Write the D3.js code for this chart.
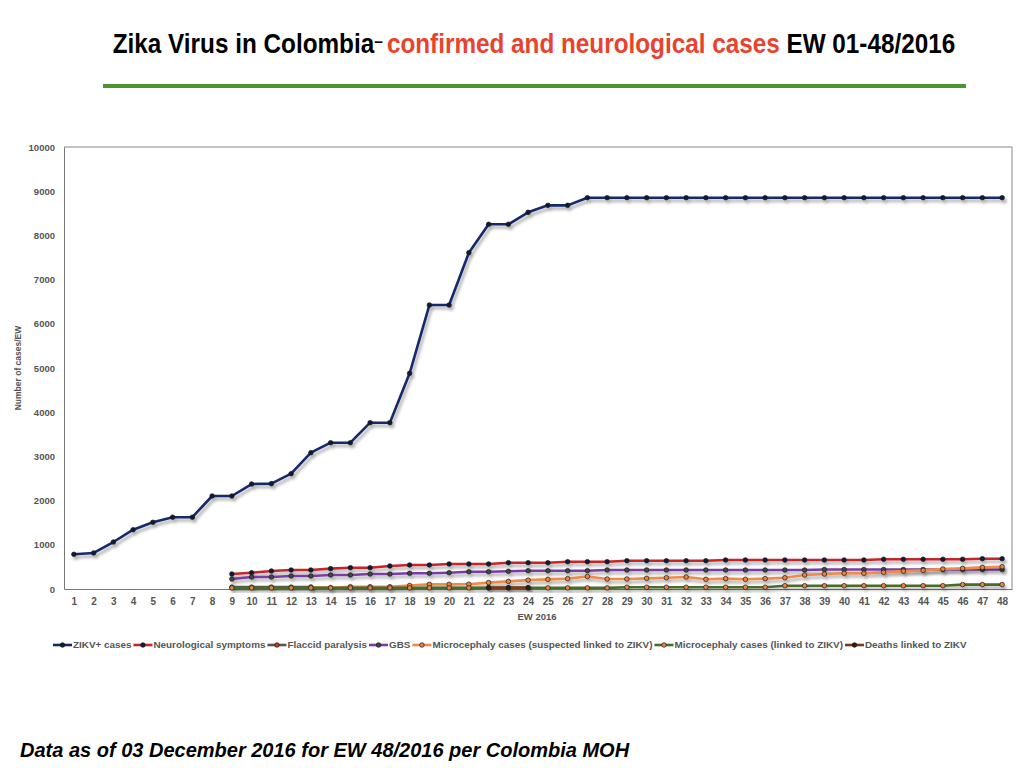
<!DOCTYPE html>
<html>
<head>
<meta charset="utf-8">
<script src="https://cdn.jsdelivr.net/npm/d3@7"></script>
<style>
  body { margin: 0; background: #fff; }
  svg { display: block; font-family: "Liberation Sans", Arial, sans-serif; }
  .axis text { font-size: 10px; font-weight: bold; fill: #555; }
  .axis path { stroke: #777; }
</style>
</head>
<body>
<div id="chart"></div>
<script>
// epidemiological weeks 2016
var weeks = [1, 2, 3, 4, 5, 6, 7, 8, 9, 10, 11, 12, 13, 14, 15, 16, 17, 18, 19, 20, 21, 22, 23, 24,
             25, 26, 27, 28, 29, 30, 31, 32, 33, 34, 35, 36, 37, 38, 39, 40, 41, 42, 43, 44, 45, 46, 47, 48];
var yTicks = [0, 1000, 2000, 3000, 4000, 5000, 6000, 7000, 8000, 9000, 10000];

var zikv = [785, 815, 1063, 1342, 1509, 1625, 1625, 2104, 2104, 2375, 2383, 2609, 3084, 3310, 3310, 3763,
            3763, 4879, 6425, 6425, 7609, 8251, 8251, 8522, 8680, 8680, 8853, 8853, 8853, 8853, 8853, 8853,
            8853, 8853, 8853, 8853, 8853, 8853, 8853, 8853, 8853, 8853, 8853, 8853, 8853, 8853, 8853, 8853];
var neuro = [null, null, null, null, null, null, null, null, 339, 369, 407, 430, 430, 460, 482, 482,
             520, 543, 543, 566, 566, 566, 595, 595, 595, 618, 618, 618, 640, 640, 640, 640,
             640, 656, 656, 656, 656, 656, 656, 656, 656, 672, 672, 672, 672, 672, 686, 686];
var flaccid = [null, null, null, null, null, null, null, null, 42, 42, 42, 42, 42, null, null, null,
               null, null, null, null, null, null, null, null, null, null, null, null, null, null, null, null,
               null, null, null, null, null, null, null, null, null, null, null, null, null, null, null, null];
var gbs = [null, null, null, null, null, null, null, null, 226, 271, 271, 294, 294, 317, 317, 339,
           339, 355, 355, 369, 391, 391, 400, 414, 414, 414, 414, 430, 430, 430, 430, 430,
           430, 430, 430, 430, 430, 430, 440, 440, 440, 440, 440, 440, 440, 440, 440, 440];
var microSusp = [null, null, null, null, null, null, null, null, null, null, null, null, 40, 30, 52, 52,
                 52, 80, 105, 105, 108, 145, 172, 200, 218, 234, 283, 226, 226, 241, 256, 271,
                 219, 234, 219, 234, 256, 317, 339, 355, 355, 377, 405, 422, 452, 467, 490, 505];
var microLinked = [null, null, null, null, null, null, null, null, 25, 25, 25, 25, 25, 25, 25, 25,
                   25, 25, 25, 25, 25, 25, 25, 25, 25, 25, 25, 25, 40, 40, 40, 40,
                   40, 40, 40, 40, 75, 75, 75, 75, 75, 75, 75, 75, 75, 100, 100, 100];
var deaths = [null, null, null, null, null, null, null, null, null, null, null, null, null, null, null, null,
              null, null, null, null, null, 30, 30, 30, null, null, null, null, null, null, null, null,
              null, null, null, null, null, null, null, null, null, null, null, null, null, null, null, null];

var seriesNames = ["ZIKV+ cases", "Neurological symptoms", "Flaccid paralysis", "GBS",
                   "Microcephaly cases (suspected linked to ZIKV)", "Microcephaly cases (linked to ZIKV)",
                   "Deaths linked to ZIKV"];
var seriesValues = [zikv, neuro, flaccid, gbs, microSusp, microLinked, deaths];
var lineColors = ["#15296a", "#c4262a", "#555555", "#7a3da6", "#f08a48", "#4b6a2d", "#7a3a14"];
var dotColors  = ["#111a33", "#0d1b3d", "#c43a22", "#444444", "#e8843c", "#e8843c", "#222222"];

var W = 1024, H = 768;
var svg = d3.select("#chart").append("svg")
    .attr("width", W)
    .attr("height", H);

svg.append("rect").attr("width", W).attr("height", H).attr("fill", "#fff");

var defs = svg.append("defs");
defs.append("filter")
    .attr("id", "shadow")
    .attr("x", "-5%").attr("y", "-20%").attr("width", "110%").attr("height", "150%")
  .append("feDropShadow")
    .attr("dx", 2).attr("dy", 3).attr("stdDeviation", 1.6)
    .attr("flood-color", "#000").attr("flood-opacity", 0.33);

// title, squeezed a bit to look like the condensed face of the slide
var title = svg.append("text")
    .attr("text-anchor", "middle")
    .style("font-size", "27px")
    .style("font-weight", "bold");
title.append("tspan").attr("fill", "#000").text("Zika Virus in Colombia");
title.append("tspan").attr("fill", "#000").attr("dy", -6).style("font-size", "17px").text("\u2013 ");
title.append("tspan").attr("fill", "#e8432e").attr("dy", 6).text(" confirmed and neurological cases");
title.append("tspan").attr("fill", "#000").text(" EW 01-48/2016");
var sx = 843 / title.node().getComputedTextLength();
title.attr("transform", "translate(534,53) scale(" + sx + ",1)");

svg.append("line")
    .attr("x1", 103).attr("x2", 966)
    .attr("y1", 86).attr("y2", 86)
    .attr("stroke", "#4a962c")
    .attr("stroke-width", 4);

// scales
var x = d3.scalePoint()
    .domain(weeks)
    .range([64, 1012])
    .padding(0.5);

var y = d3.scaleLinear()
    .domain([0, 10000])
    .range([589, 147]);

// frame
svg.append("path")
    .attr("d", "M" + x.range()[0] + "," + y(10000) + "H" + x.range()[1] + "V" + y(0))
    .attr("fill", "none")
    .attr("stroke", "#888")
    .attr("stroke-width", 1);

svg.append("g")
    .attr("class", "y axis")
    .attr("transform", "translate(" + x.range()[0] + ",0)")
    .call(d3.axisLeft(y).tickValues(yTicks).tickSize(0).tickPadding(9).tickFormat(d3.format("d")));

svg.append("g")
    .attr("class", "x axis")
    .attr("transform", "translate(0," + y(0) + ")")
    .call(d3.axisBottom(x).tickSize(0).tickPadding(9));

svg.selectAll(".axis text").style("font-family", "'Liberation Sans', Arial, sans-serif");
svg.selectAll(".y.axis text").style("font-size", "9.5px");

svg.append("text")
    .attr("x", 537)
    .attr("y", 620)
    .attr("text-anchor", "middle")
    .style("font-size", "9.5px")
    .style("font-weight", "bold")
    .attr("fill", "#555")
    .text("EW 2016");

svg.append("text")
    .attr("transform", "translate(21,368) rotate(-90)")
    .attr("text-anchor", "middle")
    .style("font-size", "8.5px")
    .style("font-weight", "bold")
    .attr("fill", "#555")
    .text("Number of cases/EW");

// series
var line = d3.line()
    .defined(function (d) { return d.v !== null; })
    .x(function (d) { return x(d.w); })
    .y(function (d) { return y(d.v); });

seriesValues.forEach(function (vals, i) {
    var pts = weeks.map(function (w, j) { return {w: w, v: vals[j]}; });
    var g = svg.append("g").attr("filter", "url(#shadow)");
    g.append("path")
        .datum(pts)
        .attr("d", line)
        .attr("fill", "none")
        .attr("stroke", lineColors[i])
        .attr("stroke-width", 2.6)
        .attr("stroke-linejoin", "round");
    g.selectAll("circle")
        .data(pts.filter(function (d) { return d.v !== null; }))
        .enter().append("circle")
        .attr("cx", function (d) { return x(d.w); })
        .attr("cy", function (d) { return y(d.v); })
        .attr("r", 2.3)
        .attr("fill", dotColors[i])
        .attr("stroke", "#1a1a1a")
        .attr("stroke-width", 0.7);
});

// legend
var legX0 = 53, legX1 = 969, legY = 645, symW = 19;
var legend = svg.append("g");
var items = legend.selectAll("g")
    .data(seriesNames)
    .enter().append("g");
var labels = items.append("text")
    .attr("y", legY)
    .attr("dy", "0.35em")
    .style("font-size", "10px")
    .style("font-weight", "bold")
    .attr("fill", "#555")
    .text(function (d) { return d; });
var textTotal = 0;
labels.each(function () { textTotal += this.getComputedTextLength(); });
var fs = 10 * (legX1 - legX0 - seriesNames.length * (symW + 3)) / textTotal;
labels.style("font-size", fs + "px");
var cx = legX0;
items.each(function (d, i) {
    var g = d3.select(this);
    g.insert("line", "text")
        .attr("x1", cx).attr("x2", cx + symW)
        .attr("y1", legY).attr("y2", legY)
        .attr("stroke", lineColors[i])
        .attr("stroke-width", 2.6);
    g.insert("circle", "text")
        .attr("cx", cx + symW / 2).attr("cy", legY).attr("r", 2.3)
        .attr("fill", dotColors[i])
        .attr("stroke", "#1a1a1a").attr("stroke-width", 0.7);
    var t = g.select("text").attr("x", cx + symW + 1);
    cx += symW + 3 + t.node().getComputedTextLength();
});

// footer
svg.append("text")
    .attr("x", 20)
    .attr("y", 757)
    .style("font-size", "20px")
    .style("font-weight", "bold")
    .style("font-style", "italic")
    .attr("fill", "#000")
    .text("Data as of 03 December 2016 for EW 48/2016 per Colombia MOH");
</script>
</body>
</html>
